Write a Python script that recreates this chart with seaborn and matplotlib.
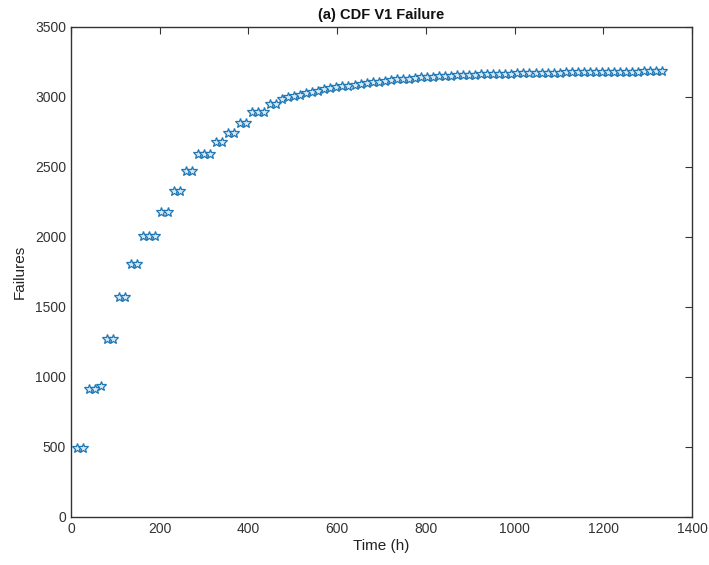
import numpy as np
import pandas as pd
import matplotlib
matplotlib.use("Agg")
import matplotlib.pyplot as plt
import seaborn as sns

# sample times (h), uniform sampling grid
time_h = [round(13.6 * k, 1) for k in range(1, 99)]

failures = [
    490, 490,
    915, 915, 935,
    1275, 1275,
    1575, 1575,
    1805, 1805,
    2005, 2005, 2005,
    2175, 2175,
    2325, 2325,
    2470, 2470,
    2590, 2590, 2590,
    2675, 2675,
    2745, 2745,
    2815, 2815,
    2895, 2895, 2895,
    2950, 2950,
    2985, 3000, 3005, 3015, 3030, 3038, 3045, 3055, 3062, 3070,
    3078, 3082, 3088, 3095, 3100, 3105, 3110, 3115, 3120, 3125,
    3128, 3132, 3136, 3140, 3143, 3146, 3148, 3150, 3152, 3154,
    3156, 3158, 3160, 3162, 3163, 3164, 3165, 3166, 3167, 3168,
    3169, 3170, 3171, 3172, 3172, 3173, 3174, 3175, 3175, 3176,
    3177, 3178, 3178, 3179, 3180, 3180, 3181, 3181, 3182, 3182,
    3183, 3183, 3184, 3184,
]

df = pd.DataFrame({"Time (h)": time_h, "Failures": failures})

sns.set_theme(style="white")
plt.rcParams["font.family"] = ["Liberation Sans", "DejaVu Sans"]

fig = plt.figure(figsize=(7.09, 5.65), dpi=100)
ax = fig.add_axes([71 / 709, 1 - 517 / 565, (692 - 71) / 709, (517 - 27) / 565])

sns.lineplot(data=df, x="Time (h)", y="Failures", ax=ax, linestyle="none",
             marker="*", markersize=7.5, markerfacecolor="#d6e8f5",
             markeredgecolor="#1f77b4", markeredgewidth=0.9, color="#1f77b4")

ax.set_xlim(0, 1400)
ax.set_ylim(0, 3500)
ax.set_xticks(np.arange(0, 1401, 200))
ax.set_yticks(np.arange(0, 3501, 500))
ax.tick_params(direction="in", length=5, width=0.8, top=True, right=True,
               labelsize=10, colors="#333333", labelcolor="#333333")
for s in ax.spines.values():
    s.set_color("#333333")
    s.set_linewidth(1.0)
    s.set_visible(True)
ax.set_xlabel("Time (h)", fontsize=11, color="#222222", labelpad=2)
ax.set_ylabel("Failures", fontsize=11, color="#222222", labelpad=6)
ax.set_title("(a) CDF V1 Failure", fontsize=10.5, fontweight="bold", color="#111111", pad=6)
ax.grid(False)

fig.savefig("out.png", dpi=100)
